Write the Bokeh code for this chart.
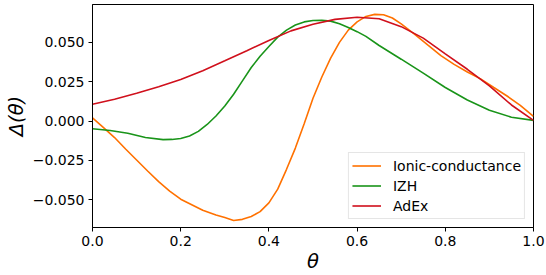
from bokeh.plotting import figure
from bokeh.models import FixedTicker, Range1d
from bokeh.embed import file_html
from bokeh.resources import INLINE

# ---------------- data ----------------
ionic_theta = [0.00, 0.025, 0.05, 0.075, 0.10, 0.125, 0.15, 0.175, 0.20, 0.25, 0.28,
               0.30, 0.32, 0.34, 0.36, 0.38, 0.40, 0.42, 0.44, 0.46, 0.48, 0.50, 0.52,
               0.54, 0.56, 0.58, 0.60, 0.62, 0.64, 0.66, 0.68, 0.70, 0.73, 0.76, 0.79,
               0.82, 0.85, 0.88, 0.91, 0.94, 0.97, 1.00]
ionic_delta = [0.0020, -0.0042, -0.0105, -0.0178, -0.0248, -0.0318, -0.0385, -0.0445,
               -0.0497, -0.0567, -0.0598, -0.0614, -0.0632, -0.0625, -0.0607, -0.0576,
               -0.0520, -0.0433, -0.0307, -0.0172, -0.0018, 0.0145, 0.0280, 0.0400,
               0.0500, 0.0578, 0.0630, 0.0665, 0.0678, 0.0676, 0.0655, 0.0617, 0.0553,
               0.0484, 0.0416, 0.0360, 0.0312, 0.0268, 0.0213, 0.0159, 0.0100, 0.0030]

izh_theta = [0.00, 0.04, 0.08, 0.12, 0.16, 0.18, 0.20, 0.22, 0.24, 0.26, 0.28, 0.30,
             0.32, 0.34, 0.36, 0.38, 0.40, 0.42, 0.44, 0.46, 0.48, 0.50, 0.52, 0.54,
             0.56, 0.58, 0.60, 0.62, 0.65, 0.70, 0.75, 0.80, 0.85, 0.90, 0.95, 1.00]
izh_delta = [-0.0049, -0.0060, -0.0078, -0.0105, -0.0118, -0.0117, -0.0111, -0.0095,
             -0.0066, -0.0022, 0.0032, 0.0095, 0.0170, 0.0255, 0.0340, 0.0412, 0.0474,
             0.0533, 0.0578, 0.0610, 0.0630, 0.0639, 0.0640, 0.0635, 0.0618, 0.0595,
             0.0568, 0.0538, 0.0480, 0.0393, 0.0304, 0.0213, 0.0134, 0.0069, 0.0024,
             0.0004]

adex_theta = [0.00, 0.05, 0.10, 0.15, 0.20, 0.25, 0.30, 0.35, 0.40, 0.45, 0.50, 0.55,
              0.60, 0.65, 0.70, 0.75, 0.80, 0.85, 0.90, 0.95, 1.00]
adex_delta = [0.0107, 0.0138, 0.0176, 0.0218, 0.0264, 0.0320, 0.0383, 0.0447, 0.0512,
              0.0573, 0.0615, 0.0646, 0.0660, 0.0650, 0.0600, 0.0527, 0.0427, 0.0329,
              0.0223, 0.0102, 0.0004]

series_names = ["Ionic-conductance", "IZH", "AdEx"]
series_colors = ["#ff7100", "#199419", "#d0101c"]

x_ticks = [0.0, 0.2, 0.4, 0.6, 0.8, 1.0]
x_tick_labels = ["0.0", "0.2", "0.4", "0.6", "0.8", "1.0"]
y_ticks = [-0.050, -0.025, 0.000, 0.025, 0.050]
y_tick_labels = ["\u22120.050", "\u22120.025", "0.000", "0.025", "0.050"]

x_label = "\u03b8"
y_label = "\u0394(\u03b8)"

# ---------------- figure ----------------
p = figure(width=546, height=275, output_backend="svg", toolbar_location=None,
           x_range=Range1d(0.0, 1.0), y_range=Range1d(-0.06769, 0.07407),
           min_border_left=92, min_border_right=13, min_border_top=4,
           min_border_bottom=47)
p.background_fill_color = "white"
p.border_fill_color = "white"
p.outline_line_color = "black"
p.outline_line_alpha = 1.0
p.outline_line_width = 1
p.grid.visible = False

FONT = "DejaVu Sans"
for ax in (p.xaxis[0], p.yaxis[0]):
    ax.axis_line_color = "black"
    ax.major_tick_line_color = "black"
    ax.major_tick_out = 4
    ax.major_tick_in = 0
    ax.minor_tick_line_color = None
    ax.major_label_text_font = FONT
    ax.major_label_text_font_size = "14px"
    ax.major_label_text_color = "black"
    ax.axis_label_text_font = FONT
    ax.axis_label_text_font_size = "19.5px"
    ax.axis_label_text_font_style = "italic"
    ax.axis_label_text_color = "black"

p.xaxis.ticker = FixedTicker(ticks=x_ticks)
p.xaxis.major_label_overrides = dict(zip(x_ticks, x_tick_labels))
p.xaxis.major_label_standoff = 4
p.xaxis.axis_label = x_label
p.xaxis.axis_label_standoff = 1

p.yaxis.ticker = FixedTicker(ticks=y_ticks)
p.yaxis.major_label_overrides = dict(zip(y_ticks, y_tick_labels))
p.yaxis.major_label_standoff = 4
p.yaxis.axis_label = y_label
p.yaxis.axis_label_standoff = 2

all_theta = [ionic_theta, izh_theta, adex_theta]
all_delta = [ionic_delta, izh_delta, adex_delta]
for th, de, name, col in zip(all_theta, all_delta, series_names, series_colors):
    p.line(th, de, line_color=col, line_width=1.6, legend_label=name)

leg = p.legend[0]
leg.location = "bottom_right"
leg.margin = 8
leg.padding = 3
leg.spacing = 1
leg.label_height = 19
leg.glyph_height = 19
leg.glyph_width = 29
leg.label_standoff = 12
leg.label_text_font = FONT
leg.label_text_font_size = "14px"
leg.label_text_color = "black"
leg.border_line_color = "#cccccc"
leg.border_line_width = 1
leg.background_fill_alpha = 0.8

open("out.html", "w").write(file_html(p, INLINE))
